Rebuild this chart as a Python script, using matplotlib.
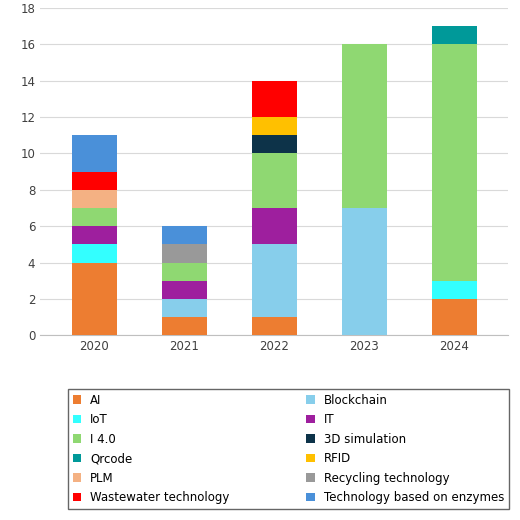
import matplotlib.pyplot as plt
import numpy as np

years = ["2020", "2021", "2022", "2023", "2024"]
series = ["AI", "Blockchain", "IoT", "IT", "I 4.0", "3D simulation", "Qrcode", "RFID",
          "PLM", "Recycling technology", "Wastewater technology", "Technology based on enzymes"]
values = {
    "AI": [4, 1, 1, 0, 2],
    "Blockchain": [0, 1, 4, 7, 0],
    "IoT": [1, 0, 0, 0, 1],
    "IT": [1, 1, 2, 0, 0],
    "I 4.0": [1, 1, 3, 9, 13],
    "3D simulation": [0, 0, 1, 0, 0],
    "Qrcode": [0, 0, 0, 0, 1],
    "RFID": [0, 0, 1, 0, 0],
    "PLM": [1, 0, 0, 0, 0],
    "Recycling technology": [0, 1, 0, 0, 0],
    "Wastewater technology": [1, 0, 2, 0, 0],
    "Technology based on enzymes": [2, 1, 0, 0, 0],
}
colors = ["#ED7D31", "#87CEEB", "#33FFFF", "#9E1F9E", "#8FD872", "#0D3349",
          "#009999", "#FFC000", "#F4B183", "#999999", "#FF0000", "#4A90D9"]

fig = plt.figure(figsize=(5.2, 5.2), dpi=100)
ax = fig.add_axes([0.077, 0.355, 0.9, 0.63])
x = np.arange(len(years))
bottom = np.zeros(len(years))
handles = []
for s, c in zip(series, colors):
    v = np.array(values[s], dtype=float)
    h = ax.bar(x, v, 0.5, bottom=bottom, color=c, label=s, zorder=3)
    handles.append(h)
    bottom += v
ax.set_ylim(0, 18)
ax.set_yticks(range(0, 19, 2))
ax.set_xticks(x)
ax.set_xticklabels(years)
ax.set_xlim(-0.6, 4.6)
ax.grid(axis="y", color="#d9d9d9", lw=0.8, zorder=0)
for sp in ["top", "right", "left"]:
    ax.spines[sp].set_visible(False)
ax.spines["bottom"].set_color("#bfbfbf")
ax.tick_params(length=0, labelsize=8.5, colors="#404040")
ordered = handles[0::2] + handles[1::2]
labels = series[0::2] + series[1::2]
fig.legend(ordered, labels, loc="lower center", bbox_to_anchor=(0.555, 0.01), ncol=2,
           fontsize=8.5, frameon=True, fancybox=False, edgecolor="#404040",
           handlelength=0.7, handleheight=0.7, columnspacing=6.5, labelspacing=0.55)
fig.savefig("out.png")
